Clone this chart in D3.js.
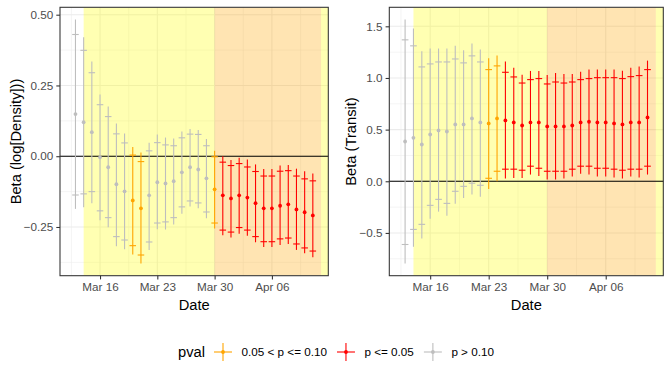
<!DOCTYPE html>
<html>
<head>
<meta charset="utf-8">
<script src="https://cdn.jsdelivr.net/npm/d3@7"></script>
<style>
  body { margin: 0; background: #fff; }
  svg text { font-family: "Liberation Sans", Arial, sans-serif; }
</style>
</head>
<body>
<div id="chart"></div>
<script>
// SECTION A:: DATA
const dates = ["2020-03-13","2020-03-14","2020-03-15","2020-03-16","2020-03-17","2020-03-18","2020-03-19",
  "2020-03-20","2020-03-21","2020-03-22","2020-03-23","2020-03-24","2020-03-25","2020-03-26","2020-03-27",
  "2020-03-28","2020-03-29","2020-03-30","2020-03-31","2020-04-01","2020-04-02","2020-04-03","2020-04-04",
  "2020-04-05","2020-04-06","2020-04-07","2020-04-08","2020-04-09","2020-04-10","2020-04-11"];

// density model
const densityEst  = [0.149,0.120,0.085,-0.004,-0.039,-0.099,-0.124,-0.156,-0.184,-0.138,-0.092,-0.096,-0.088,-0.057,-0.039,
  -0.047,-0.078,-0.117,-0.138,-0.149,-0.138,-0.146,-0.166,-0.184,-0.184,-0.175,-0.170,-0.188,-0.198,-0.209];
const densityHi95 = [0.483,0.420,0.335,0.218,0.176,0.116,0.080,0.033,0.013,0.048,0.077,0.066,0.063,0.087,0.096,
  0.093,0.061,0.019,0.000,-0.013,-0.005,-0.012,-0.029,-0.045,-0.045,-0.033,-0.031,-0.044,-0.053,-0.061];
const densityHi90 = [0.430,0.374,0.295,0.182,0.140,0.079,0.047,0.004,-0.019,0.019,0.048,0.040,0.037,0.065,0.078,
  0.077,0.037,-0.002,-0.021,-0.033,-0.026,-0.038,-0.054,-0.070,-0.070,-0.053,-0.051,-0.070,-0.080,-0.087];
const densityLo90 = [-0.137,-0.133,-0.125,-0.193,-0.217,-0.284,-0.296,-0.316,-0.349,-0.303,-0.236,-0.232,-0.217,-0.179,-0.158,
  -0.165,-0.197,-0.236,-0.261,-0.268,-0.252,-0.261,-0.284,-0.302,-0.302,-0.292,-0.289,-0.310,-0.324,-0.335];
const densityLo95 = [-0.186,-0.180,-0.166,-0.226,-0.251,-0.318,-0.329,-0.347,-0.379,-0.331,-0.258,-0.259,-0.241,-0.203,-0.178,
  -0.184,-0.219,-0.255,-0.279,-0.287,-0.274,-0.281,-0.304,-0.321,-0.321,-0.314,-0.310,-0.331,-0.343,-0.357];
const densityPval = ["ns","ns","ns","ns","ns","ns","ns","mid","mid","ns","ns","ns","ns","ns","ns",
  "ns","ns","mid","sig","sig","sig","sig","sig","sig","sig","sig","sig","sig","sig","sig"];

// transit model
const transitEst  = [0.385,0.421,0.356,0.453,0.492,0.482,0.550,0.550,0.608,0.570,0.560,0.608,0.589,0.570,0.540,
  0.570,0.570,0.531,0.531,0.531,0.540,0.570,0.576,0.570,0.570,0.560,0.550,0.570,0.570,0.618];
const transitHi95 = [1.566,1.479,1.259,1.285,1.285,1.285,1.311,1.269,1.333,1.275,1.191,1.217,1.159,1.100,1.032,
  1.068,1.068,1.029,1.049,1.039,1.039,1.061,1.081,1.081,1.081,1.081,1.071,1.100,1.110,1.168];
const transitHi90 = [1.369,1.311,1.107,1.136,1.155,1.155,1.184,1.146,1.214,1.155,1.081,1.117,1.055,1.010,0.951,
  0.984,0.994,0.942,0.961,0.951,0.961,0.984,0.994,1.003,1.003,1.003,0.994,1.013,1.023,1.081];
const transitLo90 = [-0.612,-0.466,-0.417,-0.233,-0.175,-0.214,-0.097,-0.049,-0.019,-0.039,0.029,0.097,0.117,0.117,0.107,
  0.146,0.126,0.097,0.097,0.097,0.117,0.146,0.146,0.126,0.126,0.117,0.107,0.117,0.117,0.146];
const transitLo95 = [-0.796,-0.634,-0.553,-0.362,-0.294,-0.333,-0.217,-0.162,-0.129,-0.149,-0.074,0.000,0.026,0.032,0.032,
  0.065,0.052,0.016,0.016,0.026,0.045,0.074,0.065,0.045,0.045,0.036,0.026,0.045,0.036,0.065];
const transitPval = ["ns","ns","ns","ns","ns","ns","ns","ns","ns","ns","mid","mid","sig","sig","sig",
  "sig","sig","sig","sig","sig","sig","sig","sig","sig","sig","sig","sig","sig","sig","sig"];

// shaded periods (end null = runs to the panel edge)
const periodStart = ["2020-03-14","2020-03-30","2020-04-12"];
const periodEnd   = ["2020-03-30","2020-04-12",null];
const periodKind  = ["yellow","orange","yellow"];

// legend
const pvalCodes  = ["mid","sig","ns"];
const pvalLabels = ["0.05 < p <= 0.10","p <= 0.05","p > 0.10"];

const densityTicks = [-0.25, 0, 0.25, 0.5];
const transitTicks = [-0.5, 0, 0.5, 1, 1.5];

// SECTION B:: DRAWING
const W = 672, H = 384;
const parse = d3.utcParse("%Y-%m-%d");
const pvalColor = d3.scaleOrdinal().domain(pvalCodes).range(["#FFA500", "#FF0000", "#BEBEBE"]);
const periodColor = {yellow: "#FFFF00", orange: "#FFA500"};

const svg = d3.select("#chart").append("svg")
    .attr("width", W).attr("height", H)
    .style("display", "block");

drawPanel({
  left: 60, right: 328.3, top: 7.3, bottom: 275.7,
  est: densityEst, hi95: densityHi95, hi90: densityHi90, lo90: densityLo90, lo95: densityLo95, pval: densityPval,
  ticks: densityTicks, fmt: d3.format(".2f"), title: "Beta (log[Density]))", titleX: 15.5
});
drawPanel({
  left: 389.3, right: 663.3, top: 7.3, bottom: 275.7,
  est: transitEst, hi95: transitHi95, hi90: transitHi90, lo90: transitLo90, lo95: transitLo95, pval: transitPval,
  ticks: transitTicks, fmt: d3.format(".1f"), title: "Beta (Transit)", titleX: 351
});
drawLegend();

function drawPanel(o) {
  const rows = dates.map((d, i) => ({
    date: parse(d), est: o.est[i], hi95: o.hi95[i], hi90: o.hi90[i],
    lo90: o.lo90[i], lo95: o.lo95[i], pval: o.pval[i]
  }));
  const halfCap = 0.4 * 864e5; // errorbar width 0.8 day

  // ggplot-like 5% expansion
  let x0 = d3.min(rows, d => +d.date) - halfCap, x1 = d3.max(rows, d => +d.date) + halfCap;
  const ex = (x1 - x0) * 0.05;
  const x = d3.scaleUtc().domain([new Date(x0 - ex), new Date(x1 + ex)]).range([o.left, o.right]);

  let y0 = d3.min(rows, d => d.lo95), y1 = d3.max(rows, d => d.hi95);
  const ey = (y1 - y0) * 0.05;
  const y = d3.scaleLinear().domain([y0 - ey, y1 + ey]).range([o.bottom, o.top]);

  const g = svg.append("g");
  const clipId = "clip" + Math.round(o.left);
  svg.append("clipPath").attr("id", clipId).append("rect")
      .attr("x", o.left).attr("y", o.top).attr("width", o.right - o.left).attr("height", o.bottom - o.top);

  // grid
  const xMajor = d3.utcMonday.range(x.domain()[0], x.domain()[1]);
  const step = 7 * 864e5;
  const xMinor = [];
  for (let t = +xMajor[0] - step / 2; t < +x.domain()[1]; t += step)
    if (t > +x.domain()[0]) xMinor.push(new Date(t));
  const yStep = o.ticks[1] - o.ticks[0];
  const yMinor = [];
  for (let v = o.ticks[0] - yStep / 2; v < y.domain()[1]; v += yStep)
    if (v > y.domain()[0]) yMinor.push(v);

  const grid = g.append("g").attr("stroke", "#EBEBEB");
  grid.selectAll(".vmin").data(xMinor).enter().append("line")
      .attr("x1", d => x(d)).attr("x2", d => x(d)).attr("y1", o.top).attr("y2", o.bottom).attr("stroke-width", 0.55);
  grid.selectAll(".hmin").data(yMinor).enter().append("line")
      .attr("y1", d => y(d)).attr("y2", d => y(d)).attr("x1", o.left).attr("x2", o.right).attr("stroke-width", 0.55);
  grid.selectAll(".vmaj").data(xMajor).enter().append("line")
      .attr("x1", d => x(d)).attr("x2", d => x(d)).attr("y1", o.top).attr("y2", o.bottom).attr("stroke-width", 1.07);
  grid.selectAll(".hmaj").data(o.ticks).enter().append("line")
      .attr("y1", d => y(d)).attr("y2", d => y(d)).attr("x1", o.left).attr("x2", o.right).attr("stroke-width", 1.07);

  // shaded periods
  const periods = periodStart.map((s, i) => ({start: parse(s), end: periodEnd[i] ? parse(periodEnd[i]) : null, kind: periodKind[i]}));
  g.append("g").attr("clip-path", `url(#${clipId})`)
    .selectAll("rect").data(periods).enter().append("rect")
      .attr("x", d => x(d.start))
      .attr("width", d => (d.end ? x(d.end) : o.right + 5) - x(d.start))
      .attr("y", o.top).attr("height", o.bottom - o.top)
      .attr("fill", d => periodColor[d.kind]).attr("fill-opacity", 0.3);

  // zero line
  g.append("line").attr("x1", o.left).attr("x2", o.right)
      .attr("y1", y(0)).attr("y2", y(0)).attr("stroke", "#000").attr("stroke-width", 1.07);

  // error bars
  const bars = g.append("g").selectAll("g").data(rows).enter().append("g")
      .attr("stroke", d => pvalColor(d.pval)).attr("stroke-width", 1.1);
  bars.append("line")
      .attr("x1", d => x(d.date)).attr("x2", d => x(d.date))
      .attr("y1", d => y(d.lo95)).attr("y2", d => y(d.hi95));
  ["lo90", "hi90"].forEach(k => {
    bars.append("line")
        .attr("x1", d => x(new Date(+d.date - halfCap))).attr("x2", d => x(new Date(+d.date + halfCap)))
        .attr("y1", d => y(d[k])).attr("y2", d => y(d[k]));
  });
  g.append("g").selectAll("circle").data(rows).enter().append("circle")
      .attr("cx", d => x(d.date)).attr("cy", d => y(d.est)).attr("r", 1.9)
      .attr("fill", d => pvalColor(d.pval));

  // border
  g.append("rect").attr("x", o.left).attr("y", o.top)
      .attr("width", o.right - o.left).attr("height", o.bottom - o.top)
      .attr("fill", "none").attr("stroke", "#333333").attr("stroke-width", 1.07);

  // axes
  const yAxis = svg.append("g").attr("transform", `translate(${o.left},0)`)
      .call(d3.axisLeft(y).tickValues(o.ticks).tickFormat(o.fmt).tickSize(3.7).tickPadding(3));
  const xAxis = svg.append("g").attr("transform", `translate(0,${o.bottom})`)
      .call(d3.axisBottom(x).tickValues(xMajor).tickFormat(d3.utcFormat("%b %d")).tickSize(3.7).tickPadding(3));
  [xAxis, yAxis].forEach(a => {
    a.select(".domain").remove();
    a.selectAll(".tick line").attr("stroke", "#333333").attr("stroke-width", 1.07);
    a.selectAll(".tick text").attr("fill", "#4D4D4D").style("font-size", "11.7px")
        .style("font-family", '"Liberation Sans", Arial, sans-serif');
  });

  // titles
  svg.append("text").attr("x", (o.left + o.right) / 2).attr("y", 310)
      .attr("text-anchor", "middle").style("font-size", "14.7px").text("Date");
  svg.append("text")
      .attr("transform", `translate(${o.titleX + 5},${(o.top + o.bottom) / 2}) rotate(-90)`)
      .attr("text-anchor", "middle").style("font-size", "14.7px").text(o.title);
}

function drawLegend() {
  const cy = 352;
  const lg = svg.append("g");
  let cx = 0;
  const title = lg.append("text").attr("x", cx).attr("y", cy).attr("dy", "0.35em")
      .style("font-size", "14.7px").text("pval");
  cx += title.node().getComputedTextLength() + 9;
  pvalCodes.forEach((code, i) => {
    const col = pvalColor(code);
    const k = lg.append("g").attr("stroke", col).attr("stroke-width", 1.1);
    k.append("line").attr("x1", cx).attr("x2", cx + 18).attr("y1", cy).attr("y2", cy);
    k.append("line").attr("x1", cx + 9).attr("x2", cx + 9).attr("y1", cy - 9).attr("y2", cy + 9);
    lg.append("circle").attr("cx", cx + 9).attr("cy", cy).attr("r", 1.9).attr("fill", col);
    cx += 18 + 9.5;
    const t = lg.append("text").attr("x", cx).attr("y", cy).attr("dy", "0.35em")
        .style("font-size", "11.7px").text(pvalLabels[i]);
    cx += t.node().getComputedTextLength() + (i < pvalCodes.length - 1 ? 10 : 0);
  });
  lg.attr("transform", `translate(${(W - cx) / 2},0)`);
}
</script>
</body>
</html>
